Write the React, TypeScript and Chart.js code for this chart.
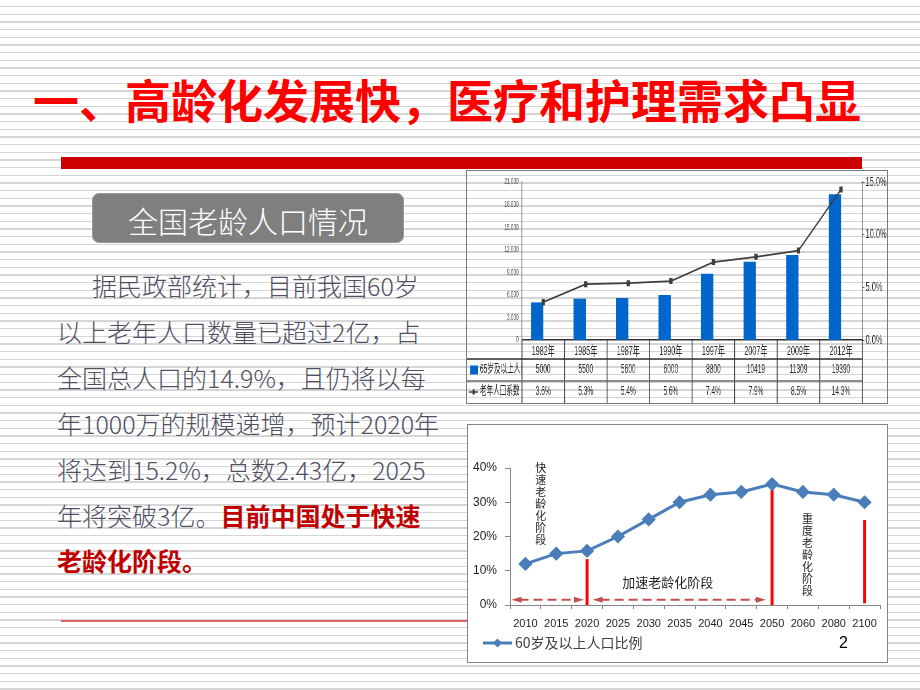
import React, { useEffect, useRef } from 'react';
import { Chart, registerables } from 'chart.js';
Chart.register(...registerables);

// ---------- data: chart 1 (全国老龄人口情况) ----------
const years1 = ['1982年', '1985年', '1987年', '1990年', '1997年', '2007年', '2009年', '2012年'];
const elderly65 = [5000, 5500, 5600, 6000, 8800, 10419, 11309, 19390];
const agingRatio = [3.6, 5.3, 5.4, 5.6, 7.4, 7.9, 8.5, 14.3];
const seriesNames1 = ['65岁及以上人口', '老年人口系数'];

// ---------- data: chart 2 (60岁及以上人口比例) ----------
const years2 = ['2010', '2015', '2020', '2025', '2030', '2035', '2040', '2045', '2050', '2060', '2080', '2100'];
const ratio60 = [12, 15, 15.8, 20, 25, 30, 32.2, 33, 35.3, 33, 32.2, 30];
const seriesName2 = '60岁及以上人口比例';

// stage annotations (in data units: category index / percent)
const stageLineYears = ['2020', '2050', '2100'];
const stageLineTop = [13.4, 35.3, 24.8];
const stageLineBottom = [0, 0, 0.5];
const arrowFrom = [-0.45, 2.18];
const arrowTo = [1.9, 7.8];
const arrowLevel = 1.5;
const noteTexts = ['快速老龄化阶段', '重度老龄化阶段', '加速老龄化阶段'];
const noteAt = [0.5, 9.15, 3.14];
const noteLevel = [40.2, 25.3, 6.8];
const noteVertical = [true, true, false];

const NUM_FONT = "'Liberation Sans', 'Noto Sans CJK SC', sans-serif";
const CJK_FONT = "'Noto Sans CJK SC', sans-serif";

// chart 1 is a horizontally squeezed picture
const C1_W = 764;
const C1_H = 232;
const C1_SCALE = 420 / 764;

const tablePlugin = {
  id: 'dataTable',
  afterDraw(chart: any) {
    const { ctx, chartArea, scales } = chart;
    const xs = scales.x;
    const left = chartArea.left;
    const right = chartArea.right;
    const bottom = chartArea.bottom;
    const n = years1.length;
    const cw = (right - left) / n;
    const r0 = bottom + 19;
    const r1 = r0 + 22;
    const r2 = r1 + 22;
    ctx.save();
    ctx.strokeStyle = '#3a3a3a';
    ctx.lineWidth = 1.6;
    for (let k = 0; k <= n; k++) {
      const x = left + k * cw;
      ctx.beginPath();
      ctx.moveTo(x, bottom);
      ctx.lineTo(x, r2);
      ctx.stroke();
    }
    ctx.lineWidth = 1.4;
    ctx.strokeStyle = '#333';
    ctx.beginPath();
    ctx.moveTo(0, r0);
    ctx.lineTo(right, r0);
    ctx.stroke();
    ctx.strokeStyle = '#666';
    ctx.beginPath();
    ctx.moveTo(0, r1);
    ctx.lineTo(right, r1);
    ctx.stroke();

    ctx.fillStyle = '#2a2a2a';
    ctx.font = `12px ${NUM_FONT}`;
    ctx.textAlign = 'center';
    ctx.textBaseline = 'middle';
    const y1 = (r0 + r1) / 2;
    const y2 = (r1 + r2) / 2;
    for (let i = 0; i < n; i++) {
      const x = xs.getPixelForValue(i);
      ctx.fillText(String(elderly65[i]), x, y1);
      ctx.fillText(agingRatio[i].toFixed(1) + '%', x, y2);
    }

    ctx.save();
    ctx.beginPath();
    ctx.rect(0, r0, left - 1, r2 - r0);
    ctx.clip();
    ctx.fillStyle = '#0066cc';
    ctx.fillRect(5.5, y1 - 4.5, 14.5, 9);
    ctx.strokeStyle = '#3f3f3f';
    ctx.lineWidth = 1.5;
    ctx.beginPath();
    ctx.moveTo(3.5, y2);
    ctx.lineTo(20, y2);
    ctx.stroke();
    ctx.fillStyle = '#3f3f3f';
    ctx.fillRect(10, y2 - 2.5, 4, 5);
    ctx.fillStyle = '#222';
    ctx.textAlign = 'left';
    ctx.font = `12px ${NUM_FONT}`;
    ctx.fillText(seriesNames1[0], 23.6, y1);
    ctx.fillText(seriesNames1[1], 23.6, y2);
    ctx.restore();
    ctx.restore();
  },
};

const stagePlugin = {
  id: 'stages',
  beforeDatasetsDraw(chart: any) {
    const { ctx, scales } = chart;
    const xs = scales.x;
    const ys = scales.y;
    ctx.save();
    ctx.strokeStyle = '#ff0000';
    ctx.lineWidth = 3;
    stageLineYears.forEach((yr, i) => {
      const x = xs.getPixelForValue(years2.indexOf(yr));
      ctx.beginPath();
      ctx.moveTo(x, ys.getPixelForValue(stageLineBottom[i]));
      ctx.lineTo(x, ys.getPixelForValue(stageLineTop[i]));
      ctx.stroke();
    });
    const ay = ys.getPixelForValue(arrowLevel);
    ctx.strokeStyle = '#c0504d';
    ctx.fillStyle = '#c0504d';
    ctx.lineWidth = 2;
    arrowFrom.forEach((a, i) => {
      const xa = xs.getPixelForValue(a);
      const xb = xs.getPixelForValue(arrowTo[i]);
      ctx.setLineDash([9, 5]);
      ctx.beginPath();
      ctx.moveTo(xa + 8, ay);
      ctx.lineTo(xb - 8, ay);
      ctx.stroke();
      ctx.setLineDash([]);
      ctx.beginPath();
      ctx.moveTo(xa, ay);
      ctx.lineTo(xa + 10, ay - 3);
      ctx.lineTo(xa + 10, ay + 3);
      ctx.closePath();
      ctx.fill();
      ctx.beginPath();
      ctx.moveTo(xb, ay);
      ctx.lineTo(xb - 10, ay - 3);
      ctx.lineTo(xb - 10, ay + 3);
      ctx.closePath();
      ctx.fill();
    });
    ctx.fillStyle = '#1e1e1e';
    noteTexts.forEach((t, i) => {
      const x = xs.getPixelForValue(noteAt[i]);
      const y = ys.getPixelForValue(noteLevel[i]);
      if (noteVertical[i]) {
        ctx.font = `11px ${CJK_FONT}`;
        ctx.textAlign = 'center';
        ctx.textBaseline = 'middle';
        Array.from(t).forEach((ch, k) => ctx.fillText(ch, x, y + k * 12));
      } else {
        ctx.font = `13px ${CJK_FONT}`;
        ctx.textAlign = 'left';
        ctx.textBaseline = 'middle';
        ctx.fillText(t, x, y);
      }
    });
    ctx.restore();
  },
  afterDraw(chart: any) {
    const { ctx, chartArea } = chart;
    const y = chartArea.bottom + 38;
    ctx.save();
    ctx.strokeStyle = '#4a7ebb';
    ctx.fillStyle = '#4a7ebb';
    ctx.lineWidth = 3;
    ctx.beginPath();
    ctx.moveTo(16, y);
    ctx.lineTo(45, y);
    ctx.stroke();
    ctx.beginPath();
    ctx.moveTo(30.5, y - 4.5);
    ctx.lineTo(35, y);
    ctx.lineTo(30.5, y + 4.5);
    ctx.lineTo(26, y);
    ctx.closePath();
    ctx.fill();
    ctx.fillStyle = '#404040';
    ctx.font = `14px ${CJK_FONT}`;
    ctx.textAlign = 'left';
    ctx.textBaseline = 'middle';
    ctx.fillText(chart.data.datasets[0].label, 48, y);
    ctx.restore();
  },
};

export default function App() {
  const ref1 = useRef<HTMLCanvasElement>(null);
  const ref2 = useRef<HTMLCanvasElement>(null);

  useEffect(() => {
    const ch1 = new Chart(ref1.current as HTMLCanvasElement, {
      type: 'bar',
      data: {
        labels: years1,
        datasets: [
          {
            type: 'line',
            label: seriesNames1[1],
            data: agingRatio,
            yAxisID: 'y1',
            borderColor: '#3f3f3f',
            borderWidth: 1.8,
            pointStyle: 'rect',
            pointRadius: 3,
            pointBackgroundColor: '#3f3f3f',
            pointBorderColor: '#3f3f3f',
            order: 0,
          } as any,
          {
            type: 'bar',
            label: seriesNames1[0],
            data: elderly65,
            yAxisID: 'y',
            backgroundColor: '#0066cc',
            categoryPercentage: 0.58,
            barPercentage: 1,
            order: 1,
          },
          {
            type: 'bar',
            label: '',
            data: [],
            yAxisID: 'y',
            categoryPercentage: 0.58,
            barPercentage: 1,
            order: 2,
          },
        ],
      },
      options: {
        animation: false,
        responsive: false,
        devicePixelRatio: 1,
        layout: { padding: { left: 0, right: 0, top: 7, bottom: 44 } },
        plugins: { legend: { display: false }, tooltip: { enabled: false } },
        scales: {
          x: {
            offset: true,
            grid: { display: false, drawTicks: false },
            border: { display: true, color: '#333', width: 1.5 },
            ticks: {
              font: { size: 13, family: NUM_FONT },
              color: '#2a2a2a',
              padding: 4,
              autoSkip: false,
              maxRotation: 0,
            },
            afterFit: (s: any) => {
              s.height = 19;
            },
          },
          y: {
            position: 'left',
            min: 0,
            max: 21000,
            ticks: { stepSize: 3000, font: { size: 8.5, family: NUM_FONT }, color: '#444', padding: 6 },
            grid: { display: false, drawTicks: false },
            border: { display: true, color: '#8a8a8a', width: 1.5 },
            afterFit: (s: any) => {
              s.width = 100;
            },
          },
          y1: {
            position: 'right',
            min: 0,
            max: 15,
            ticks: {
              stepSize: 5,
              callback: (v: any) => Number(v).toFixed(1) + '%',
              font: { size: 13.5, family: NUM_FONT },
              color: '#2a2a2a',
              padding: 2,
            },
            grid: { drawOnChartArea: false, drawTicks: true, tickLength: 4, color: '#555' },
            border: { display: true, color: '#555', width: 1.5 },
            afterFit: (s: any) => {
              s.width = 45;
            },
          },
        },
      } as any,
      plugins: [tablePlugin],
    });

    const ch2 = new Chart(ref2.current as HTMLCanvasElement, {
      type: 'line',
      data: {
        labels: years2,
        datasets: [
          {
            label: seriesName2,
            data: ratio60,
            borderColor: '#4a7ebb',
            backgroundColor: '#4a7ebb',
            borderWidth: 3,
            pointStyle: 'rectRot',
            pointRadius: 5,
            pointBackgroundColor: '#4a7ebb',
            pointBorderColor: '#4a7ebb',
            tension: 0,
          },
        ],
      },
      options: {
        animation: false,
        responsive: false,
        devicePixelRatio: 1,
        layout: { padding: { left: 0, right: 5, top: 44, bottom: 28 } },
        plugins: { legend: { display: false }, tooltip: { enabled: false } },
        scales: {
          x: {
            offset: true,
            grid: { offset: true, drawOnChartArea: false, tickLength: 4, color: '#868686' },
            border: { color: '#868686' },
            ticks: {
              font: { size: 11, family: NUM_FONT },
              color: '#1e1e1e',
              padding: 8,
              autoSkip: false,
              maxRotation: 0,
            },
            afterFit: (s: any) => {
              s.height = 30;
            },
          },
          y: {
            min: 0,
            max: 40,
            ticks: {
              stepSize: 10,
              callback: (v: any) => v + '%',
              font: { size: 12, family: NUM_FONT },
              color: '#1e1e1e',
              padding: 8,
            },
            grid: { drawOnChartArea: false, tickLength: 5, color: '#868686' },
            border: { color: '#868686' },
            afterFit: (s: any) => {
              s.width = 43;
            },
          },
        },
      } as any,
      plugins: [stagePlugin],
    });

    return () => {
      ch1.destroy();
      ch2.destroy();
    };
  }, []);

  const stripe =
    'repeating-linear-gradient(180deg, #ffffff 0px, #ffffff 6.1px, #d5d5d5 6.1px, #d5d5d5 7.3px, #ffffff 7.3px, #ffffff 7.6667px)';

  return (
    <div
      style={{
        position: 'absolute',
        left: 0,
        top: 0,
        width: 920,
        height: 690,
        overflow: 'hidden',
        background: stripe,
        fontFamily: CJK_FONT,
      }}
    >
      <div
        style={{
          position: 'absolute',
          left: 33,
          top: 75,
          fontSize: 46,
          lineHeight: '46px',
          fontWeight: 700,
          color: '#ff0000',
          whiteSpace: 'nowrap',
        }}
      >
        一、高龄化发展快，医疗和护理需求凸显
      </div>
      <div style={{ position: 'absolute', left: 61, top: 157, width: 801, height: 12, background: '#cc0000' }} />

      <div
        style={{
          position: 'absolute',
          left: 92,
          top: 193,
          width: 312,
          height: 50,
          boxSizing: 'border-box',
          background: '#7f7f7f',
          border: '1px solid #9a9a9a',
          borderRadius: 7,
          color: '#ffffff',
          fontSize: 30,
          fontWeight: 300,
          display: 'flex',
          alignItems: 'center',
          justifyContent: 'center',
          paddingTop: 4,
          whiteSpace: 'nowrap',
        }}
      >
        全国老龄人口情况
      </div>

      <div
        style={{
          position: 'absolute',
          left: 57,
          top: 263,
          fontSize: 25,
          lineHeight: '45.9px',
          color: '#4f4f5f',
          fontWeight: 300,
          whiteSpace: 'nowrap',
        }}
      >
        <div style={{ textIndent: 35 }}>据民政部统计，目前我国60岁</div>
        <div>以上老年人口数量已超过2亿，占</div>
        <div>全国总人口的14.9%，且仍将以每</div>
        <div>年1000万的规模递增，预计2020年</div>
        <div>将达到15.2%，总数2.43亿，2025</div>
        <div>
          年将突破3亿。<span style={{ color: '#c00000', fontWeight: 700 }}>目前中国处于快速</span>
        </div>
        <div style={{ color: '#c00000', fontWeight: 700 }}>老龄化阶段。</div>
      </div>

      <div style={{ position: 'absolute', left: 61, top: 619.5, width: 410, height: 2, background: '#d86464' }} />

      <div
        style={{
          position: 'absolute',
          left: 466,
          top: 170,
          width: 422,
          height: 234,
          boxSizing: 'border-box',
          border: '1.5px solid #7a7a7a',
        }}
      />
      <canvas
        ref={ref1}
        width={C1_W}
        height={C1_H}
        style={{
          position: 'absolute',
          left: 467,
          top: 171,
          width: C1_W,
          height: C1_H,
          transform: `scaleX(${C1_SCALE})`,
          transformOrigin: '0 0',
        }}
      />

      <div
        style={{
          position: 'absolute',
          left: 467,
          top: 424,
          width: 421,
          height: 239,
          boxSizing: 'border-box',
          border: '1.5px solid #858585',
          background: '#ffffff',
        }}
      />
      <canvas
        ref={ref2}
        width={421}
        height={239}
        style={{ position: 'absolute', left: 467, top: 424, width: 421, height: 239 }}
      />

      <div
        style={{
          position: 'absolute',
          left: 839,
          top: 635,
          fontSize: 16,
          lineHeight: '16px',
          fontFamily: "'Liberation Sans', sans-serif",
          color: '#000',
        }}
      >
        2
      </div>
    </div>
  );
}
